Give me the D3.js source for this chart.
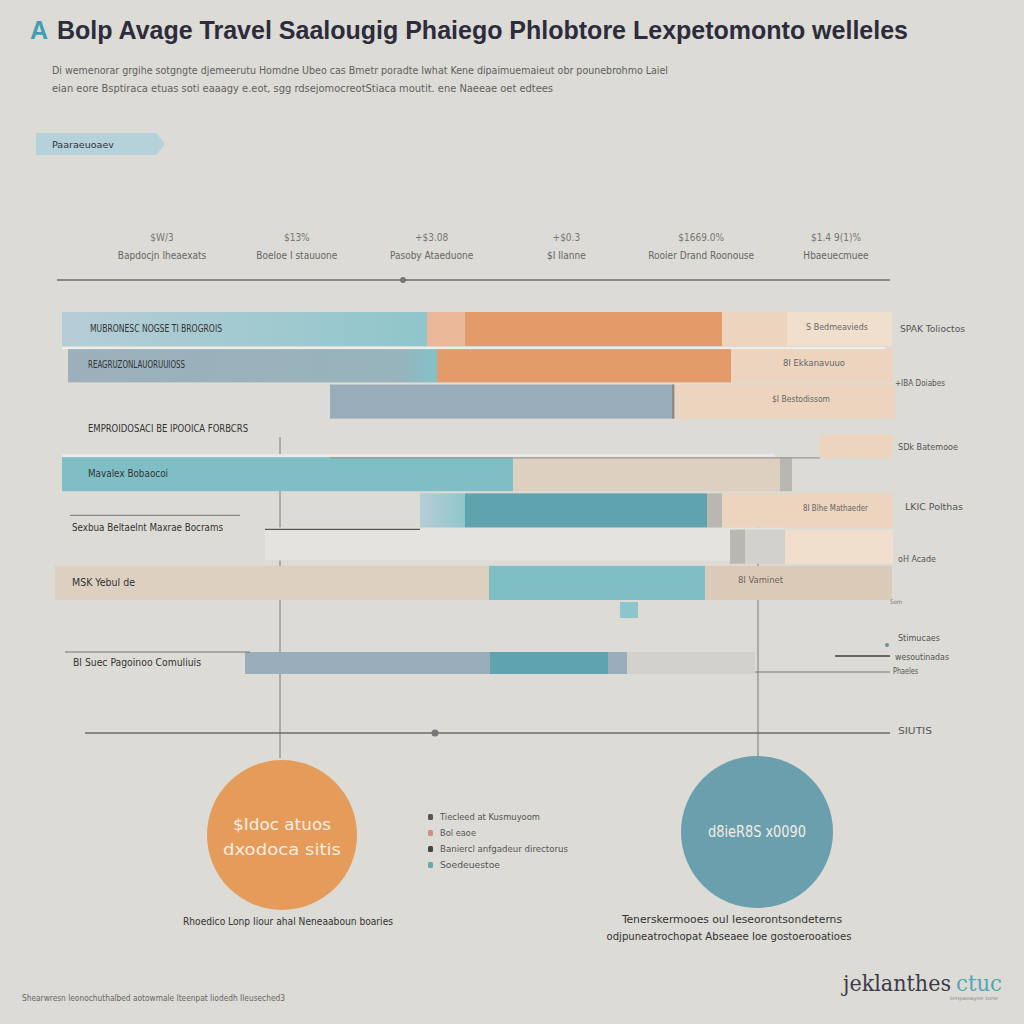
<!DOCTYPE html>
<html><head><meta charset="utf-8">
<script src="https://cdn.jsdelivr.net/npm/d3@7"></script>
<style>html,body{margin:0;padding:0;background:#dcdbd5;} svg{display:block;}</style>
</head><body><svg id="c" width="1024" height="1024"></svg>
<script>
// ---------------- data ----------------
const titleLead = "A";
const titleText = "Bolp Avage Travel Saalougig Phaiego Phlobtore Lexpetomonto welleles";
const subtitleLines = [
  "Di wemenorar grgihe sotgngte djemeerutu Homdne Ubeo cas Bmetr poradte Iwhat Kene dipaimuemaieut obr pounebrohmo Laiel",
  "eian eore Bsptiraca etuas soti eaaagy e.eot, sgg rdsejomocreotStiaca moutit. ene Naeeae oet edtees"
];
const tagLabel = "Paaraeuoaev";
const headValues = ["$W/3", "$13%", "+$3.08", "+$0.3", "$1669.0%", "$1.4 9(1)%"];
const headLabels = ["Bapdocjn Iheaexats", "Boeloe I stauuone", "Pasoby Ataeduone", "$I Ilanne", "Rooier Drand Roonouse", "Hbaeuecmuee"];

const barRows   = ["R1", "R2", "R3", "R4", "R5", "R6", "R7", "R8"];
const lowerRows = ["R9"];
const rowLabels = {
  R1: "MUBRONESC NOGSE TI BROGROIS",
  R2: "REAGRUZONLAUORUUIOSS",
  R4: "EMPROIDOSACI BE IPOOICA FORBCRS",
  R5: "Mavalex Bobaocoi",
  R6: "Sexbua Beltaelnt Maxrae Bocrams",
  R8: "MSK Yebul de",
  R9: "Bl Suec Pagoinoo Comuliuis"
};
const valueLabels = {
  R1: "S Bedmeavieds",
  R2: "8I Ekkanavuuo",
  R3: "$I Bestodissom",
  R6: "8I Blhe Mathaeder",
  R8: "8I Vaminet"
};
const outerLabels = {
  R1: "SPAK Tolioctos",
  R2: "+IBA Doiabes",
  R4: "SDk Batemooe",
  R6: "LKIC Polthas",
  R7: "oH Acade"
};

// segments (value units)
const segRows   = ["R1","R1","R1","R1","R1", "R2","R2","R2", "R3","R3","R3", "R4", "R5","R5","R5", "R6","R6","R6","R6", "R7","R7","R7", "R8","R8","R8", "R9","R9","R9","R9"];
const segStarts = [0.7, 37.2, 41.0, 66.7, 73.2,  1.3, 38.2, 67.6,  27.5, 61.7, 62.0,  76.5,  0.7, 45.8, 72.5,  36.5, 41.0, 65.2, 66.7,  67.5, 69.0, 73.0,  0.0, 43.4, 65.0,  19.0, 43.5, 55.3, 57.2];
const segEnds   = [37.2, 41.0, 66.7, 73.2, 83.7,  38.2, 67.6, 83.8,  61.7, 62.0, 84.0,  83.8,  45.8, 72.5, 73.7,  41.0, 65.2, 66.7, 83.8,  69.0, 73.0, 83.8,  43.4, 65.0, 83.7,  43.5, 55.3, 57.2, 70.0];
const segSeries = ["Planning","Extra","Transit","Lodging","Rest", "Dining","Transit","Lodging", "Slate","Misc","Lodging", "Lodging", "Tours","Gear","Misc", "Planning","Fees","Misc","Lodging", "Misc","Idle","Rest", "Gear","Tours","Gear2", "Slate","Fees","Slate","Idle"];

const gridValues = [22.5, 70.3];
const topMarker = 34.8;
const bottomMarker = 38.0;
const bottomAxisLabel = "SIUTIS";

const circleLabels = [["$Idoc atuos", "dxodoca sitis"], ["d8ieR8S x0090"]];
const circleCaptions = [["Rhoedico Lonp Iiour ahal Neneaaboun boaries"],
  ["Tenerskermooes oul Ieseorontsondeterns", "odjpuneatrochopat Abseaee Ioe gostoerooatioes"]];
const legendLabels = ["Tiecleed at Kusmuyoom", "Bol eaoe", "Baniercl anfgadeur directorus", "Soedeuestoe"];
const sideNotes = ["Stimucaes", "wesoutinadas", "Phaeles"];
const footerText = "Shearwresn leonochuthalbed aotowmale Iteenpat Iiodedh Ileuseched3";
const logoMain = "jeklanthes";
const logoAccent = "ctuc";

// ---------------- drawing ----------------
const svg = d3.select("#c");
const NARROW = "'Liberation Sans Narrow','DejaVu Sans Condensed',sans-serif";
const SANS = "'Liberation Sans',Arial,sans-serif";

svg.append("rect").attr("width", 1024).attr("height", 1024).attr("fill", "#dcdbd5");

function txt(g, x, y, s, o = {}) {
  const t = g.append("text").attr("x", x).attr("y", y).text(s)
    .attr("font-family", o.family || NARROW)
    .attr("font-size", o.size || 10)
    .attr("font-weight", o.weight || "normal")
    .attr("fill", o.fill || "#555")
    .attr("text-anchor", o.anchor || "start")
    .attr("dominant-baseline", "middle");
  if (o.width) t.attr("textLength", o.width).attr("lengthAdjust", "spacingAndGlyphs");
  return t;
}

const color = d3.scaleOrdinal()
  .domain(["Planning","Extra","Transit","Lodging","Rest","Dining","Slate","Misc","Tours","Gear","Gear2","Fees","Idle"])
  .range(["url(#gPlan)","#e8b898","#e39b6a","#ecd4bf","#f1dfcd","url(#gDin)","#98adb9","#b9b7b0","#80bec6","#ddd0c1","#dccab8","#5ea3ae","#d2d1cb"]);

const defs = svg.append("defs");
const g1 = defs.append("linearGradient").attr("id", "gPlan");
g1.append("stop").attr("offset", "0").attr("stop-color", "#b6cdd6");
g1.append("stop").attr("offset", "1").attr("stop-color", "#8fc6cb");
const g2 = defs.append("linearGradient").attr("id", "gDin");
g2.append("stop").attr("offset", "0").attr("stop-color", "#9cb0bb");
g2.append("stop").attr("offset", "0.9").attr("stop-color", "#97b3bc");
g2.append("stop").attr("offset", "1").attr("stop-color", "#84c2c8");

// title
txt(svg, 30, 32, titleLead, {family: SANS, size: 25, weight: "bold", fill: "#3f9fb3"});
txt(svg, 57, 32, titleText, {family: SANS, size: 25, weight: "bold", fill: "#2c2c3c", width: 851});
subtitleLines.forEach((s, i) => txt(svg, 52, 71 + i * 18, s, {size: 11, fill: "#5f5f5f", width: i ? 501 : 616}));

// tag
svg.append("path").attr("d", "M36,133 L156,133 L165,144 L156,155 L36,155 Z").attr("fill", "#b5d2da");
txt(svg, 52, 145, tagLabel, {size: 9, fill: "#334", width: 62});

// x scale
const x = d3.scaleLinear().domain([0, 84]).range([55, 895]);

// header columns
const hx = d3.scalePoint().domain(headLabels).range([162, 836]);
headLabels.forEach((l, i) => {
  txt(svg, hx(l), 238, headValues[i], {size: 10, fill: "#777", anchor: "middle"});
  txt(svg, hx(l), 256, l, {size: 10, fill: "#666", anchor: "middle"});
});
svg.append("line").attr("x1", 57).attr("x2", 890).attr("y1", 280).attr("y2", 280).attr("stroke", "#6d6d6d").attr("stroke-width", 1.3);
svg.append("circle").attr("cx", x(topMarker)).attr("cy", 280).attr("r", 3).attr("fill", "#777");

// y scales
const y = d3.scaleBand().domain(barRows).range([312, 600]).paddingInner(0.06);
const y2 = d3.scaleBand().domain(lowerRows).range([652, 674]);
const yOf = r => barRows.includes(r) ? y(r) : y2(r);
const hOf = r => barRows.includes(r) ? y.bandwidth() : y2.bandwidth();

// grid verticals
svg.selectAll(".grid").data(gridValues).join("line")
  .attr("x1", d => x(d)).attr("x2", d => x(d))
  .attr("y1", (d, i) => i ? 505 : 437).attr("y2", 758)
  .attr("stroke", "#7a7a7a").attr("stroke-width", 1);

// light strip under row 6
svg.append("rect").attr("x", x(21)).attr("y", y("R6") + y.bandwidth()).attr("width", x(73) - x(21)).attr("height", 33).attr("fill", "#e4e3dd");

// segments
const segs = segRows.map((r, i) => ({r, s: segStarts[i], e: segEnds[i], k: segSeries[i]}));
svg.selectAll(".seg").data(segs).join("rect")
  .attr("x", d => x(d.s))
  .attr("width", d => x(d.e) - x(d.s))
  .attr("y", d => d.r === "R4" ? yOf(d.r) + 14 : yOf(d.r))
  .attr("height", d => d.r === "R4" ? 23 : hOf(d.r))
  .attr("fill", d => color(d.k));

// light separators/highlights
svg.append("rect").attr("x", x(0.7)).attr("y", y("R1") + y.bandwidth() + 1).attr("width", x(83) - x(0.7)).attr("height", 2).attr("fill", "#eeeeea");
svg.append("rect").attr("x", x(0.7)).attr("y", y("R5") - 3).attr("width", x(72) - x(0.7)).attr("height", 3).attr("fill", "#e9eae6");
svg.append("rect").attr("x", x(61.7)).attr("y", y("R3")).attr("width", 2).attr("height", y.bandwidth()).attr("fill", "#8e8a86");

// thin lines
const thin = [[27.5, 76.5, "R4", 37, "#999"], [1.5, 18.5, "R6", 22, "#888"], [21, 36.5, "R6", 36, "#555"], [1.0, 19.5, "R9", 0, "#777"]];
thin.forEach(([a, b, r, off, c]) => svg.append("line").attr("x1", x(a)).attr("x2", x(b))
  .attr("y1", yOf(r) + off).attr("y2", yOf(r) + off).attr("stroke", c).attr("stroke-width", 1.2));

// small teal square
svg.append("rect").attr("x", x(56.5)).attr("y", 602).attr("width", x(58.3) - x(56.5)).attr("height", 16).attr("fill", "#8cc6cc");
txt(svg, 890, 602, "Som", {size: 6, fill: "#777"});

// row labels
const lblPos = {R1: [90, 17, 132], R2: [88, 17, 97], R4: [88, 8, 160], R5: [88, 17, 80], R6: [72, 35, 151], R8: [72, 17, 63], R9: [73, 11, 128]};
Object.keys(rowLabels).forEach(r => {
  const [lx, off, w] = lblPos[r];
  txt(svg, lx, yOf(r) + off, rowLabels[r], {size: 10, fill: "#333", width: w});
});
const valPos = {R1: [868, 62], R2: [845, 62], R3: [830, 58], R6: [868, 65], R8: [783, 45]};
Object.keys(valueLabels).forEach(r => {
  const [vx, w] = valPos[r];
  txt(svg, vx, yOf(r) + 15, valueLabels[r], {size: 9, fill: "#666", anchor: "end", width: w});
});
const outPos = {R1: [900, 17, 65], R2: [895, 35, 50], R4: [898, 27, 60], R6: [905, 14, 58], R7: [898, 30, 38]};
Object.keys(outerLabels).forEach(r => {
  const [ox, off, w] = outPos[r];
  txt(svg, ox, yOf(r) + off, outerLabels[r], {size: 9, fill: "#555", width: w});
});

// side notes near lower row
svg.append("circle").attr("cx", 887).attr("cy", 645).attr("r", 2).attr("fill", "#6a8fa0");
svg.append("line").attr("x1", 835).attr("x2", 890).attr("y1", 656).attr("y2", 656).attr("stroke", "#666").attr("stroke-width", 2);
svg.append("line").attr("x1", 755).attr("x2", 890).attr("y1", 672).attr("y2", 672).attr("stroke", "#777").attr("stroke-width", 1);
[[898, 638, 42], [895, 657, 54], [893, 671, 25]].forEach(([sx, sy, w], i) => txt(svg, sx, sy, sideNotes[i], {size: 8, fill: "#555", width: w}));

// bottom axis
svg.append("line").attr("x1", 85).attr("x2", 890).attr("y1", 733).attr("y2", 733).attr("stroke", "#6d6d6d").attr("stroke-width", 1.3);
svg.append("circle").attr("cx", x(bottomMarker)).attr("cy", 733).attr("r", 3.5).attr("fill", "#777");
txt(svg, 898, 731, bottomAxisLabel, {size: 9, fill: "#555", width: 34});

// circles
const circ = [{cx: 282, cy: 835, r: 75, fill: "#e59c5a"}, {cx: 757, cy: 832, r: 76, fill: "#6aa0ad"}];
circ.forEach((c, i) => {
  svg.append("circle").attr("cx", c.cx).attr("cy", c.cy).attr("r", c.r).attr("fill", c.fill);
  const lines = circleLabels[i];
  lines.forEach((s, j) => txt(svg, c.cx, c.cy + (lines.length > 1 ? (j - 0.5) * 25 + 3 : 0), s,
    {size: 15, fill: "#f4ece2", anchor: "middle", family: NARROW, width: j ? 118 : 98}));
});
txt(svg, 288, 922, circleCaptions[0][0], {size: 10, fill: "#333", anchor: "middle", width: 210});
txt(svg, 732, 920, circleCaptions[1][0], {size: 10, fill: "#333", anchor: "middle", width: 220});
txt(svg, 729, 937, circleCaptions[1][1], {size: 10, fill: "#333", anchor: "middle", width: 245});

// legend
const legColors = ["#555", "#d48c84", "#444", "#6aa8ae"];
const legW = [100, 36, 128, 60];
legendLabels.forEach((l, i) => {
  const ly = 817 + i * 16;
  svg.append("rect").attr("x", 428).attr("y", ly - 3).attr("width", 5).attr("height", 6).attr("rx", 1.5).attr("fill", legColors[i]);
  txt(svg, 440, ly, l, {size: 9, fill: "#555", width: legW[i]});
});

// footer
txt(svg, 22, 998, footerText, {size: 9, fill: "#666", width: 263});
txt(svg, 843, 985, logoMain, {family: "'DejaVu Serif',serif", size: 22, fill: "#3b3b4a", width: 108});
txt(svg, 956, 985, logoAccent, {family: "'DejaVu Serif',serif", size: 22, fill: "#4fa7b5", width: 46});
txt(svg, 950, 999, "tenpaoayoe tone", {size: 5, fill: "#888", width: 48});
</script></body></html>
